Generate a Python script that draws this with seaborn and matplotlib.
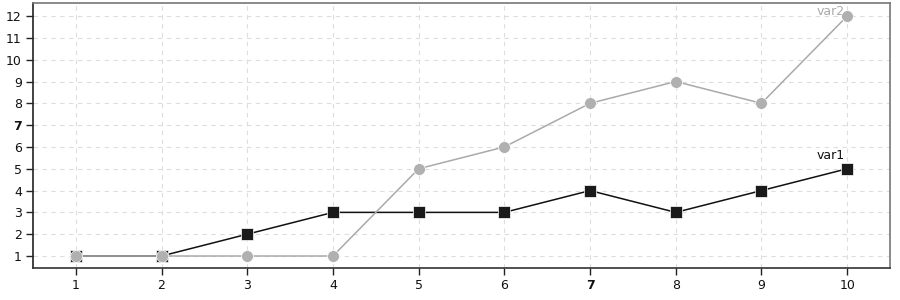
import matplotlib
matplotlib.use("Agg")
import matplotlib.pyplot as plt
import seaborn as sns
import pandas as pd

x = [1, 2, 3, 4, 5, 6, 7, 8, 9, 10]
var1 = [1, 1, 2, 3, 3, 3, 4, 3, 4, 5]
var2 = [1, 1, 1, 1, 5, 6, 8, 9, 8, 12]
yticks = list(range(1, 13))

sns.set_style("white")
plt.rcParams['font.family'] = ['DejaVu Sans']

df1 = pd.DataFrame({"x": x, "y": var1})
df2 = pd.DataFrame({"x": x, "y": var2})

fig = plt.figure(figsize=(9, 3), dpi=100)
ax = fig.add_axes([33/900, 32/300, 857/900, 265/300])

sns.lineplot(data=df1, x="x", y="y", ax=ax, color="#111111", lw=1.1,
             marker="s", markersize=8, markeredgecolor="white",
             markeredgewidth=0.5, markerfacecolor="#1a1a1a", zorder=3)
sns.lineplot(data=df2, x="x", y="y", ax=ax, color="#aaaaaa", lw=1.1,
             marker="o", markersize=8.5, markeredgecolor="white",
             markeredgewidth=0.5, markerfacecolor="#b0b0b0", zorder=4)

ax.text(x[-1] - 0.03, var1[-1] + 0.3, "var1", color="#111111", fontsize=9,
        ha="right", va="bottom")
ax.text(x[-1] - 0.03, var2[-1] - 0.1, "var2", color="#aaaaaa", fontsize=9,
        ha="right", va="bottom")

ax.set_xlim(0.5, 10.5)
ax.set_ylim(0.45, 12.6)
ax.set_xticks(x)
ax.set_yticks(yticks)
ax.set_xticklabels([str(v) for v in x], fontsize=9)
ax.set_yticklabels([str(v) for v in yticks], fontsize=9)
for lab in ax.get_xticklabels():
    if lab.get_text() == "7":
        lab.set_fontweight("bold")
for lab in ax.get_yticklabels():
    if lab.get_text() == "7":
        lab.set_fontweight("bold")

ax.set_xlabel("")
ax.set_ylabel("")
ax.grid(True, color="#dddddd", linestyle=(0, (4, 4)), lw=0.8)
ax.set_axisbelow(True)
ax.tick_params(axis="both", direction="out", length=5, width=1, color="#222222",
               bottom=True, left=True, pad=3, labelcolor="#111111")
ax.spines["left"].set_color("#222222")
ax.spines["bottom"].set_color("#333333")
ax.spines["top"].set_color("#777777")
ax.spines["right"].set_color("#777777")
for s in ax.spines.values():
    s.set_linewidth(1.2)

fig.savefig("out.png", dpi=100)
